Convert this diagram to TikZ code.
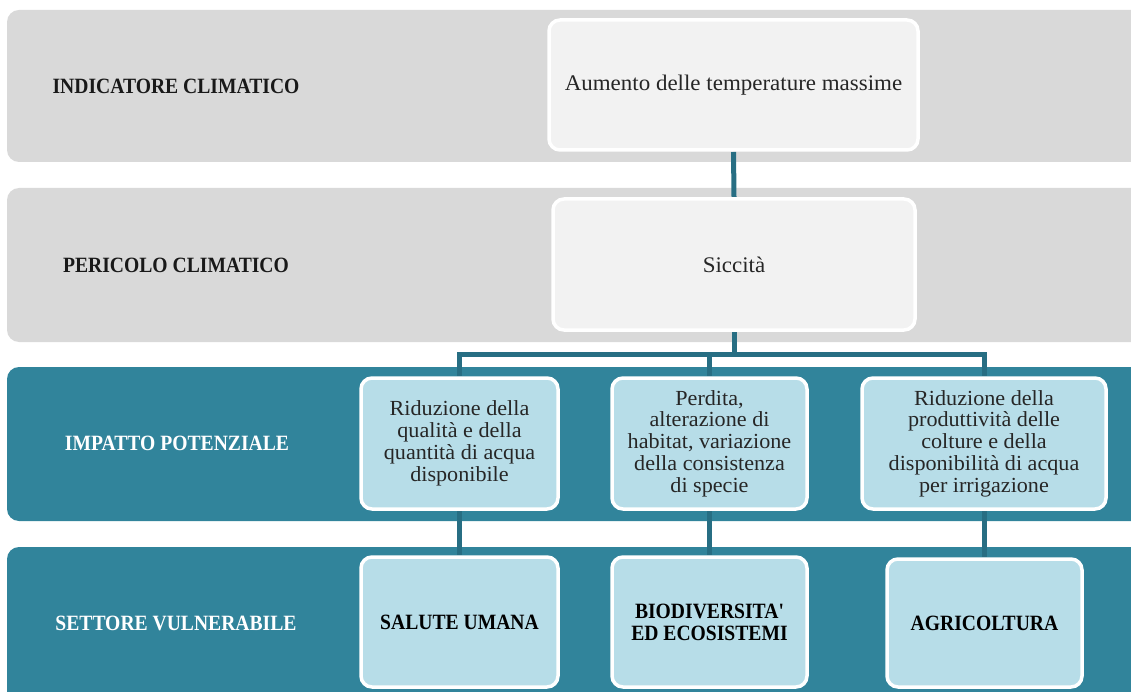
\documentclass[tikz,border=0pt]{standalone}
\usepackage{fontspec}
\setmainfont{Liberation Serif}[FakeStretch=1.03]
\newfontfamily\hdrfont{Liberation Serif}[FakeStretch=0.9]
\definecolor{bandgray}{HTML}{D9D9D9}
\definecolor{boxgray}{HTML}{F2F2F2}
\definecolor{bandteal}{HTML}{31849B}
\definecolor{boxblue}{HTML}{B7DDE8}
\definecolor{linkteal}{HTML}{276E83}
\definecolor{txtdark}{HTML}{262626}
\pgfdeclarelayer{bands}
\pgfdeclarelayer{links}
\pgfsetlayers{bands,links,main}
\tikzset{
  band/.style={rounded corners=12pt},
  graybox/.style={draw=white, line width=3.5pt, fill=boxgray, rounded corners=11pt, text=txtdark, align=center, inner sep=2pt, font=\fontsize{22.3}{23}\selectfont},
  bluebox/.style={draw=white, line width=3.5pt, fill=boxblue, rounded corners=11pt, text=txtdark, align=center, inner sep=2pt, font=\fontsize{21.5}{21.8}\selectfont},
  sectorbox/.style={bluebox, text=black, font=\hdrfont\bfseries\fontsize{21.8}{22}\selectfont},
  darklabel/.style={text=black!90, font=\hdrfont\bfseries\fontsize{21.8}{22}\selectfont},
  lightlabel/.style={text=white, font=\hdrfont\bfseries\fontsize{21.8}{22}\selectfont},
  link/.style={draw=linkteal, line width=5pt}
}
\begin{document}
\begin{tikzpicture}[x=1pt,y=-1pt]
\useasboundingbox (0,0) rectangle (1131,692);
\begin{pgfonlayer}{bands}
  \clip (0,0) rectangle (1131,692);
  \fill[band, bandgray] (7,10) rectangle (1160,162);
  \fill[band, bandgray] (7,188) rectangle (1160,342);
  \fill[band, bandteal] (7,367) rectangle (1160,521);
  \fill[band, bandteal] (7,547) rectangle (1160,720);
\end{pgfonlayer}

\node[darklabel] (l1) at (176,86) {INDICATORE CLIMATICO};
\node[darklabel] (l2) at (176,265) {PERICOLO CLIMATICO};
\node[lightlabel] (l3) at (177,443) {IMPATTO POTENZIALE};
\node[lightlabel] (l4) at (176,623) {SETTORE VULNERABILE};

\node[graybox, minimum width=369pt, minimum height=130pt] (ind) at (733.5,85) {Aumento delle temperature massime};
\node[graybox, minimum width=362pt, minimum height=131pt] (per) at (734,264.5) {Siccità};

\node[bluebox, minimum width=197pt, minimum height=131pt] (ia) at (459.5,443.5) {Riduzione della\\qualità e della\\quantità di acqua\\disponibile};
\node[bluebox, minimum width=195pt, minimum height=131pt] (ib) at (709.5,443.5) {Perdita,\\alterazione di\\habitat, variazione\\della consistenza\\di specie};
\node[bluebox, minimum width=244pt, minimum height=131pt] (ic) at (984,443.5) {Riduzione della\\produttività delle\\colture e della\\disponibilità di acqua\\per irrigazione};

\node[sectorbox, minimum width=197pt, minimum height=130pt] (sa) at (459.5,622) {SALUTE UMANA};
\node[sectorbox, minimum width=195pt, minimum height=130pt] (sb) at (709.5,622) {BIODIVERSITA'\\ED ECOSISTEMI};
\node[sectorbox, minimum width=195pt, minimum height=128pt] (sc) at (984.5,623) {AGRICOLTURA};

\coordinate (bus) at (0,354.5);
\begin{pgfonlayer}{links}
  \draw[link] (ind.south) -- (per.north);
  \draw[link] (per.south) -- (per.south |- bus);
  \draw[link] (ia.north) -- (ia.north |- bus) -- (ic.north |- bus) -- (ic.north);
  \draw[link] (ib.north) -- (ib.north |- bus);
  \draw[link] (ia.south) -- (sa.north);
  \draw[link] (ib.south) -- (sb.north);
  \draw[link] (ic.south) -- (ic.south |- sc.north);
\end{pgfonlayer}
\end{tikzpicture}
\end{document}
